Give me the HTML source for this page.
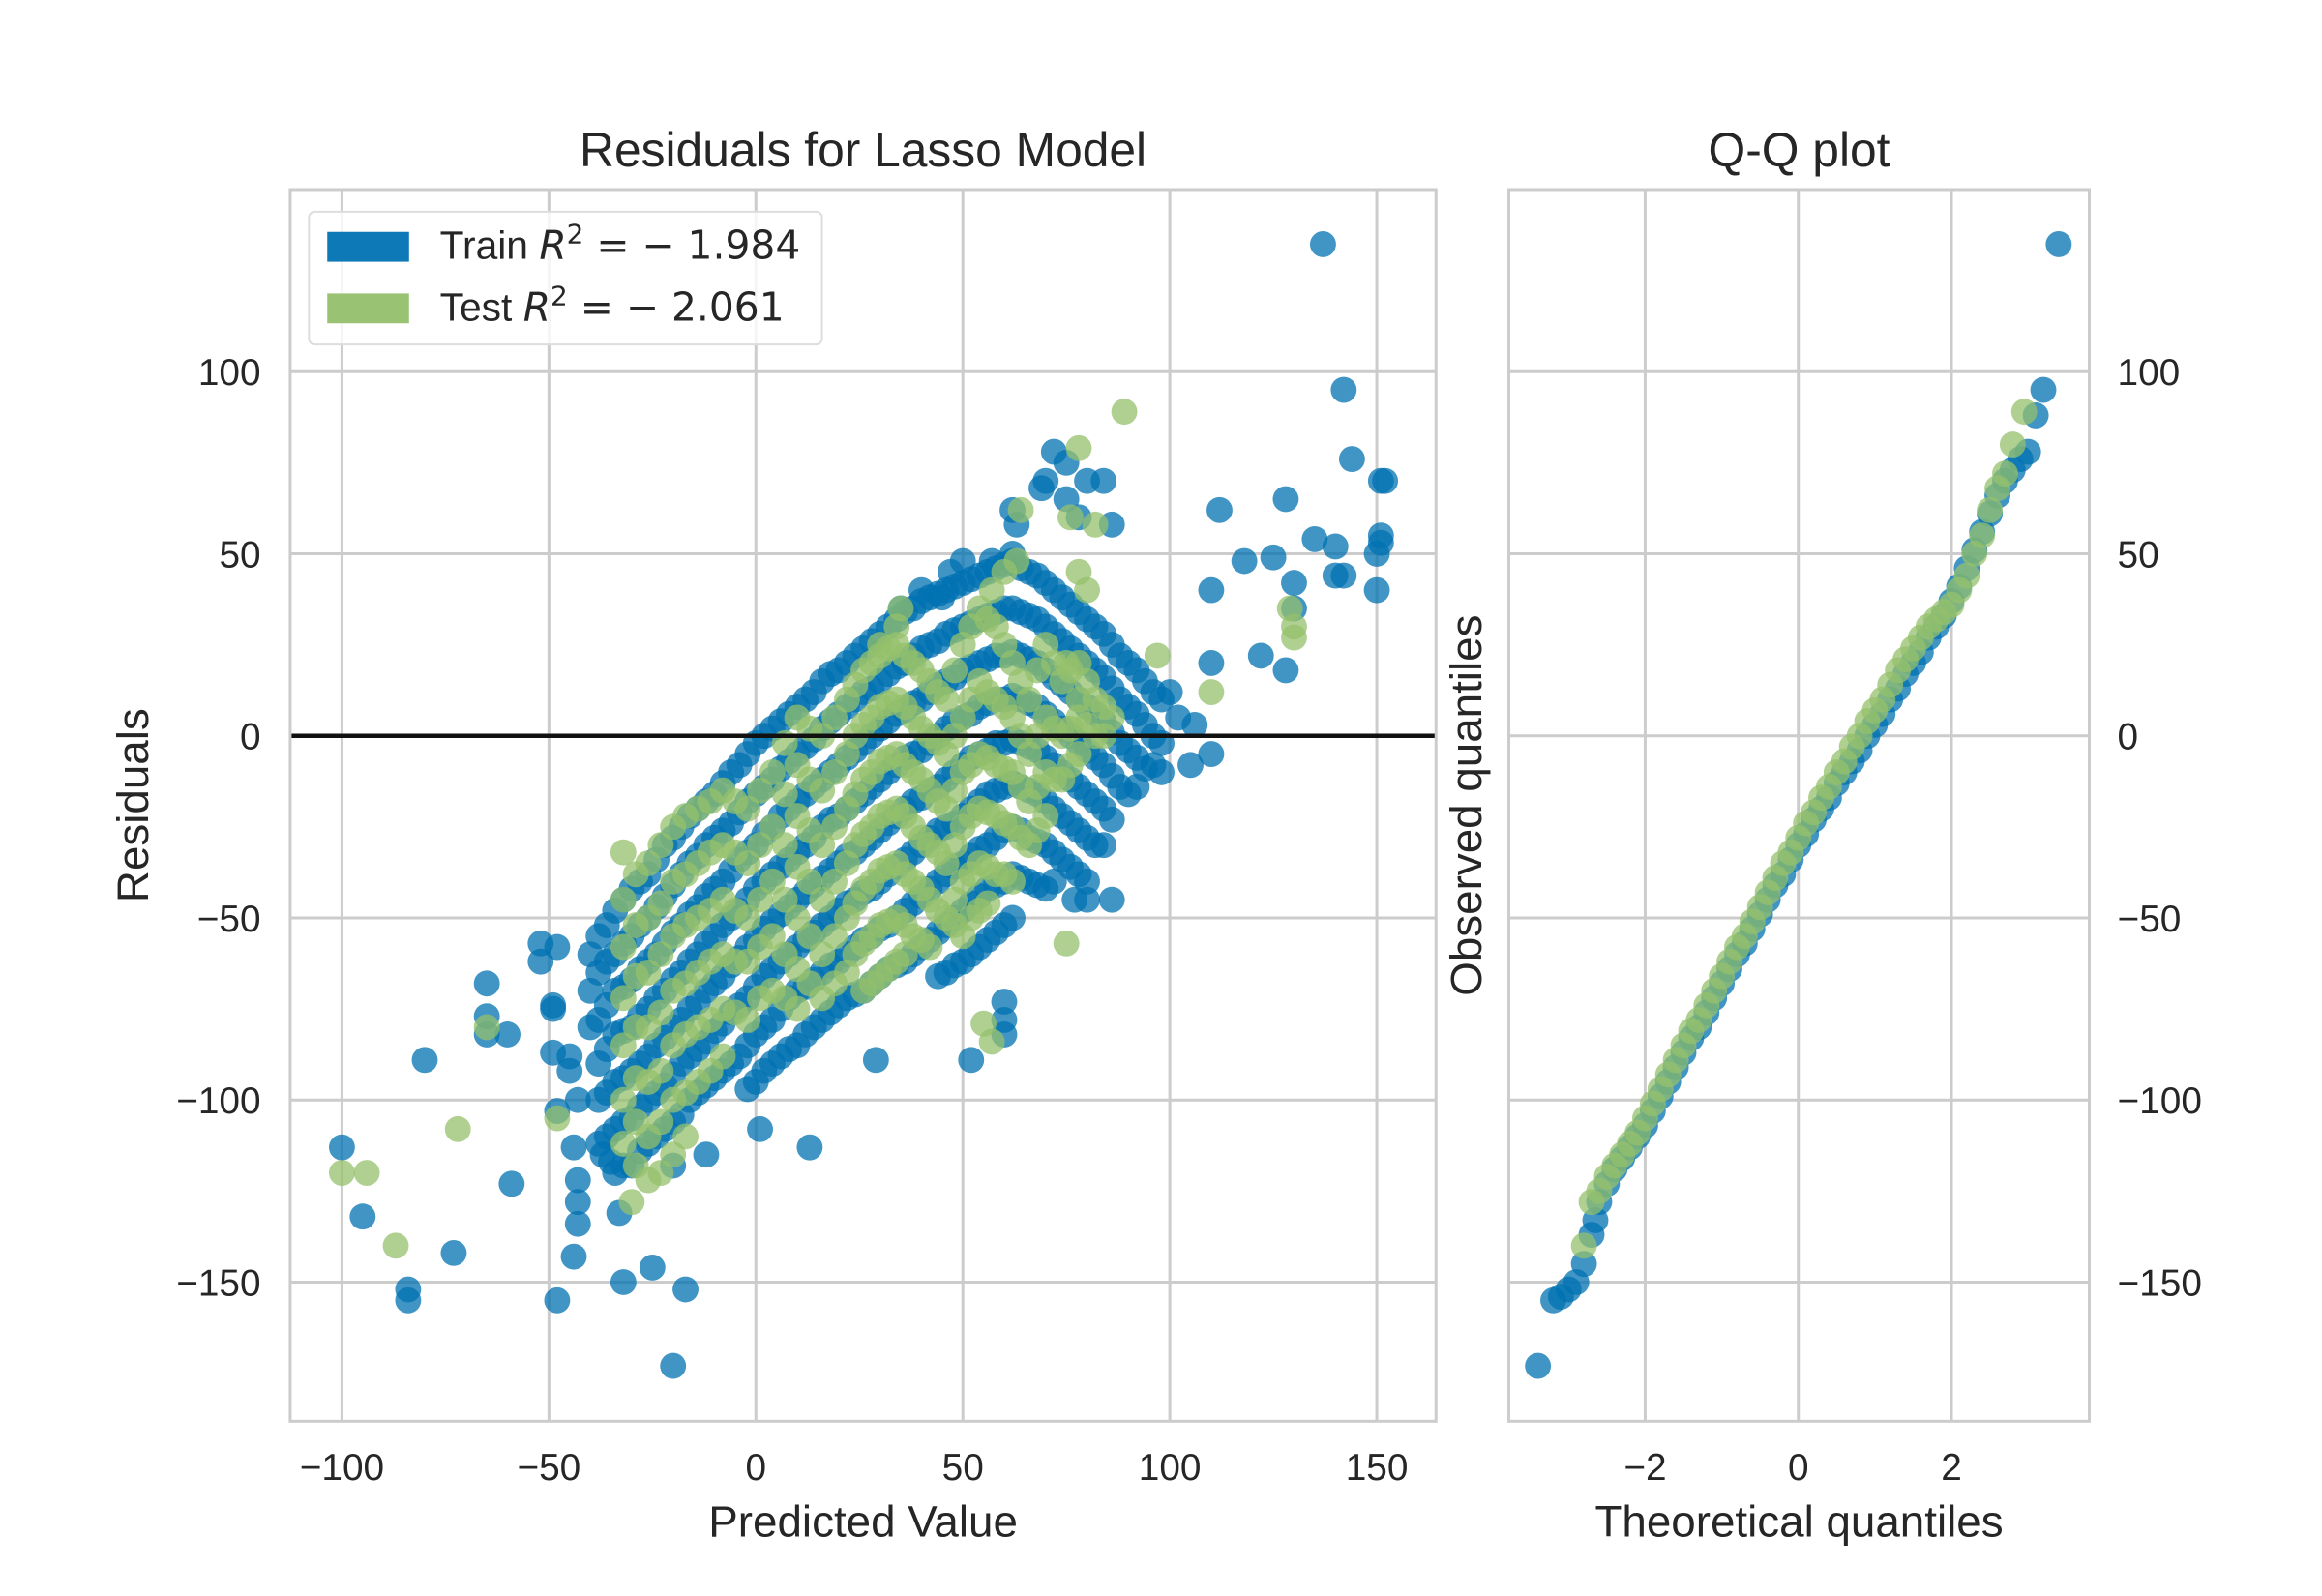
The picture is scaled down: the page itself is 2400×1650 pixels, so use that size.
<!DOCTYPE html>
<html><head><meta charset="utf-8"><title>Residuals for Lasso Model</title>
<style>
html,body{margin:0;padding:0;background:#fff;}
svg{display:block;font-family:"Liberation Sans","DejaVu Sans",sans-serif;}
</style></head>
<body>
<svg id="fig" width="2400" height="1650" viewBox="0 0 2400 1650" xmlns="http://www.w3.org/2000/svg">
<rect width="2400" height="1650" fill="#ffffff"/>
<g transform="scale(0.9948)">
<g id="main"></g>
<g id="qq"></g>
</g>
</svg>
<script>
// ---------- data ----------
const xTicks = [-100, -50, 0, 50, 100, 150];
const yTicks = [-150, -100, -50, 0, 50, 100];
const qqXTicks = [-2, 0, 2];
const tickText = {"-150":"\u2212150","-100":"\u2212100","-50":"\u221250","0":"0","50":"50","100":"100","150":"150","-2":"\u22122","2":"2"};

const trainOutliers = [[-100,-113],[-95,-132],[-84,-152],[-84,-155],[-80,-89],[-73,-142],[-65,-68],[-65,-77],[-65,-82],[-60,-82],[-59,-123],[-52,-57],[-52,-62],[-48,-58],[-49,-74],[-49,-75],[-49,-87],[-48,-103],[-48,-155],[-45,-88],[-45,-92],[-44,-113],[-43,-122],[-43,-128],[-43,-134],[-44,-143],[-43,-100],[-40,-60],[-40,-70],[-40,-80],[-37,-115],[-35,-117],[-33,-131],[-32,-150],[-25,-146],[-20,-173],[-17,-152],[-20,-118],[-12,-115],[1,-108],[13,-113],[29,-89],[52,-89],[60,-73],[60,-78],[60,-82],[77,-45],[80,-45],[86,-45],[98,-10],[100,12],[105,-8],[110,-5],[112,62],[110,20],[110,40],[118,48],[122,22],[125,49],[128,18],[128,65],[130,35],[130,42],[135,54],[137,135],[140,52],[140,44],[142,95],[142,44],[144,76],[150,40],[150,50],[151,53],[151,55],[151,70],[152,70],[78,60],[80,70],[84,70],[86,58],[69,68],[70,70],[75,75],[72,78],[75,65],[62,62],[63,58],[62,50],[57,48],[50,48],[47,45],[45,38],[40,40],[35,35]];
const trainCloudX = [-38,-34,-30,-26,-22,-18,-14,-10,-6,-2,2,6,10,14,18,22,26,30,34,38,42,46,50,54,58,62,66,70,74,78,82,86,90,94,98,102,106];
const trainCloudY = [
[-55,-65,-78,-90,-100,-112],[-48,-60,-70,-82,-95,-108,-120],[-42,-55,-67,-80,-92,-105,-118],[-38,-50,-62,-75,-88,-100,-112],
[-30,-44,-57,-70,-83,-96,-108],[-25,-38,-52,-65,-78,-90,-104],[-20,-33,-47,-60,-73,-86,-98],[-16,-28,-42,-55,-68,-81,-94],
[-10,-24,-37,-50,-63,-76,-90],[-5,-18,-32,-45,-58,-72,-85,-97],[0,-14,-27,-40,-53,-66,-80,-92],[4,-9,-22,-36,-49,-62,-75,-88],
[8,-5,-18,-32,-45,-58,-70,-85],[12,-1,-14,-28,-41,-54,-67,-80],[17,4,-10,-23,-37,-50,-63,-76],[20,8,-6,-20,-33,-46,-60,-72],
[24,12,-2,-16,-30,-43,-56,-70],[28,15,2,-12,-26,-40,-53,-66],[32,19,6,-8,-22,-36,-50,-63],[35,22,9,-5,-18,-32,-46,-60],
[38,25,12,-2,-15,-28,-42,-56],[40,28,15,2,-12,-25,-38,-52,-65],[42,30,18,5,-8,-22,-35,-48,-62],[44,32,20,8,-5,-18,-31,-44,-58],
[46,34,22,10,-2,-15,-28,-41,-54],[48,35,23,11,-1,-13,-25,-38,-50],[45,33,21,9,-3,-15,-28,-40],[42,30,18,6,-6,-18,-30,-42],
[38,26,14,2,-10,-22,-34],[34,22,10,-2,-14,-26,-38],[30,18,6,-6,-18,-30],[25,13,1,-11,-23],[20,8,-4,-16],[15,3,-9],[10,-2],[5],[3]];
const trainFillX = [-36,-32,-28,-24,-20,-16,-12,-8,-4,0,4,8,12,16,20,24,28,32,36,40,44,48,52,56,60,64,68,72,76,80,84,88,92,96];
const trainFillY = [
[-52,-62,-74,-86,-98,-110],[-45,-57,-69,-81,-94,-106,-118],[-40,-52,-64,-77,-90,-102,-114],[-34,-47,-60,-72,-85,-98,-110],
[-28,-41,-54,-67,-80,-93,-106],[-22,-35,-49,-62,-75,-88,-100],[-18,-30,-44,-57,-70,-84,-96],[-13,-26,-40,-52,-66,-79,-92],
[-8,-21,-34,-48,-61,-74,-88],[-2,-16,-30,-42,-56,-69,-82,-95],[2,-12,-25,-38,-51,-64,-78,-90],[6,-7,-20,-34,-47,-60,-72,-86],
[10,-3,-16,-30,-43,-56,-69,-82],[15,2,-12,-25,-39,-52,-65,-78],[18,6,-8,-22,-35,-48,-62,-74],[22,10,-4,-18,-32,-45,-58,-71],
[26,13,0,-14,-28,-42,-55,-68],[30,17,4,-10,-24,-38,-52,-64],[34,20,7,-6,-20,-34,-48,-62],[37,24,10,-4,-17,-30,-44,-58],
[39,26,14,0,-14,-26,-40,-54,-66],[41,29,16,4,-10,-24,-36,-50,-63],[43,31,19,6,-6,-20,-33,-46,-60],[45,33,21,9,-4,-16,-30,-42,-56],
[47,35,22,10,-2,-14,-26,-40,-52],[46,34,22,10,-2,-14,-26,-39],[44,32,20,8,-4,-16,-29,-41],[40,28,16,4,-8,-20,-32,-40],
[36,24,12,0,-12,-24,-36],[32,20,8,-4,-16,-28,-40],[28,16,4,-8,-20,-30],[22,10,-2,-14],[18,6,-6,-14],[12,0,-8]];

const testOutliers = [[-100,-120],[-94,-120],[-87,-140],[-72,-108],[-65,-80],[-48,-105],[-30,-128],[55,-79],[57,-84],[75,-57],[76,60],[78,79],[82,58],[89,89],[80,40],[78,45],[97,22],[110,12],[129,35],[130,30],[130,27],[64,62],[63,48],[60,45],[57,40],[35,35],[34,30],[30,25],[75,20],[78,10]];
const testCloudX = [-32,-26,-20,-14,-8,-2,4,10,16,22,26,30,34,38,42,46,50,54,58,62,66,70,74,78,82,86];
const testCloudY = [
[-32,-45,-58,-72,-85,-100,-112],[-35,-50,-65,-80,-95,-110,-122],[-25,-40,-55,-70,-85,-100,-115],[-20,-35,-50,-65,-80,-95],
[-15,-30,-45,-60,-75,-88],[-20,-35,-50,-62,-78],[-10,-25,-40,-55,-70],[5,-8,-22,-36,-50,-64,-75],
[0,-15,-30,-45,-60,-72],[10,-5,-20,-35,-50,-65],[18,3,-12,-27,-42,-57,-70],[22,8,-7,-22,-37,-52,-66],
[25,10,-5,-20,-35,-50,-62],[20,5,-10,-25,-40,-55],[15,0,-15,-30,-45,-58],[10,-5,-20,-35,-50],
[25,5,-10,-25,-40,-55],[35,15,-5,-20,-35,-48],[30,10,-8,-22,-38],[20,5,-10,-25,-40],
[10,-5,-18,-30],[25,5,-10,-22],[15,0,-12],[20,5,-5],[10,0],[5]];
const testFillX = [-29,-23,-17,-11,-5,1,7,13,19,24,28,32,36,40,44,48,52,56,60,64,68,72,76,80,84];
const testFillY = [
[-38,-52,-66,-80,-94,-106,-118],[-30,-46,-60,-76,-92,-106,-120],[-22,-38,-52,-68,-82,-98,-110],[-18,-32,-48,-62,-78,-92],
[-18,-32,-48,-62,-76],[-15,-30,-45,-58,-72],[-2,-16,-30,-45,-60,-72],[2,-12,-26,-40,-55,-68],
[5,-10,-25,-40,-55,-68],[14,0,-16,-30,-46,-60],[20,5,-10,-25,-40,-55,-68],[24,9,-6,-21,-36,-51,-64],
[22,8,-8,-22,-38,-52,-60],[18,2,-12,-28,-42,-56],[12,-2,-18,-32,-48],[18,0,-15,-30,-45,-52],
[30,10,-8,-22,-38,-50],[32,12,-6,-21,-36,-46],[25,8,-9,-24,-38],[15,0,-14,-28],
[18,0,-14,-26],[20,2,-12],[18,2,-8],[15,3],[8,0]];

const qqTrainTheo = [-3.4,-3.2,-3.1,-3.0,-2.9,-2.8,-2.7,-2.65,-2.6,-2.5,-2.4,-2.3,-2.2,-2.1,-2.0,-1.9,-1.8,-1.7,-1.6,-1.5,-1.4,-1.3,-1.2,-1.1,-1.0,-0.9,-0.8,-0.7,-0.6,-0.5,-0.4,-0.3,-0.2,-0.1,0,0.1,0.2,0.3,0.4,0.5,0.6,0.7,0.8,0.9,1.0,1.1,1.2,1.3,1.4,1.5,1.6,1.7,1.8,1.9,2.0,2.1,2.2,2.3,2.4,2.5,2.6,2.7,2.8,2.9,3.0,3.1,3.2,3.4];
const qqTrainObs = [-173,-155,-154,-152,-150,-145,-137,-133,-128,-123,-119,-116,-113,-110,-107,-103,-99,-95,-91,-87,-83,-80,-76,-72,-68,-64,-60,-57,-53,-49,-45,-41,-38,-34,-30,-27,-23,-20,-17,-13,-10,-7,-4,0,3,6,10,13,17,20,23,27,30,33,37,41,46,51,56,61,66,70,73,76,78,88,95,135];
const qqTestTheo = [-2.8,-2.7,-2.6,-2.5,-2.4,-2.3,-2.2,-2.1,-2.0,-1.9,-1.8,-1.7,-1.6,-1.5,-1.4,-1.3,-1.2,-1.1,-1.0,-0.9,-0.8,-0.7,-0.6,-0.5,-0.4,-0.3,-0.2,-0.1,0,0.1,0.2,0.3,0.4,0.5,0.6,0.7,0.8,0.9,1.0,1.1,1.2,1.3,1.4,1.5,1.6,1.7,1.8,1.9,2.0,2.1,2.2,2.3,2.4,2.5,2.6,2.7,2.8,2.95];
const qqTestObs = [-140,-128,-125,-121,-118,-115,-112,-109,-105,-101,-97,-93,-89,-85,-81,-78,-74,-70,-66,-62,-58,-55,-51,-47,-43,-39,-35,-32,-28,-24,-21,-17,-14,-10,-7,-3,0,4,7,10,14,18,21,24,27,30,32,34,36,40,44,50,55,62,68,72,80,89];

// ---------- layout ----------
const NS = "http://www.w3.org/2000/svg";
const M = {l:301.5, r:1492, t:197, b:1477, x0:-112.5, x1:164.3, y0:-188.2, y1:150};
const Q = {l:1567.7, r:2170.8, t:197, b:1477, x0:-3.78, x1:3.8, y0:-188.2, y1:150};
function sx(a,v){return a.l+(v-a.x0)/(a.x1-a.x0)*(a.r-a.l);}
function sy(a,v){return a.b-(v-a.y0)/(a.y1-a.y0)*(a.b-a.t);}
function mk(parent,tag,attrs,text){const e=document.createElementNS(NS,tag);for(const k in attrs)e.setAttribute(k,attrs[k]);if(text!==undefined)e.textContent=text;parent.appendChild(e);return e;}
const GRID="#cccccc", TXT="#262626", TRAIN="#0072B2", TEST="#94c06b", R=13.5, TICK=39;
const main=document.getElementById('main'), qq=document.getElementById('qq');

function frame(g,a,xt,yt,yRight,prefix){
  const bg=mk(g,'rect',{x:a.l,y:a.t,width:a.r-a.l,height:a.b-a.t,fill:'#fff'});
  
  
  xt.forEach(v=>{
    const X=sx(a,v);
    const l=mk(g,'line',{x1:X,x2:X,y1:a.t,y2:a.b,stroke:GRID,'stroke-width':3});
    
    
    const t=mk(g,'text',{x:X,y:1538,'text-anchor':'middle','font-size':TICK,fill:TXT},tickText[String(v)]);
    
    
  });
  yt.forEach(v=>{
    const Y=sy(a,v);
    const l=mk(g,'line',{x1:a.l,x2:a.r,y1:Y,y2:Y,stroke:GRID,'stroke-width':3});
    
    
    const t=mk(g,'text',{x:yRight?2200:271,y:Y+14,'text-anchor':yRight?'start':'end','font-size':TICK,fill:TXT},tickText[String(v)]);
    
    
  });
}
function border(g,a,prefix){
  const b=mk(g,'rect',{x:a.l,y:a.t,width:a.r-a.l,height:a.b-a.t,fill:'none',stroke:GRID,'stroke-width':3});
  
  
}
function dot(g,a,x,y,color,name){
  const c=mk(g,'circle',{cx:sx(a,x),cy:sy(a,y),r:R,fill:color,'fill-opacity':0.75});
  
  
}

// ---------- residuals plot ----------
frame(main,M,xTicks,yTicks,false,'residuals');
const gTrain=mk(main,'g',{});


trainOutliers.forEach(p=>dot(gTrain,M,p[0],p[1],TRAIN,'train-point'));
trainCloudX.forEach((x,i)=>trainCloudY[i].forEach(y=>dot(gTrain,M,x,y,TRAIN,'train-point')));
trainFillX.forEach((x,i)=>trainFillY[i].forEach(y=>dot(gTrain,M,x,y,TRAIN,'train-point')));
const gTest=mk(main,'g',{});


testOutliers.forEach(p=>dot(gTest,M,p[0],p[1],TEST,'test-point'));
testCloudX.forEach((x,i)=>testCloudY[i].forEach(y=>dot(gTest,M,x,y,TEST,'test-point')));
testFillX.forEach((x,i)=>testFillY[i].forEach(y=>dot(gTest,M,x,y,TEST,'test-point')));
const zl=mk(main,'line',{x1:M.l,x2:M.r,y1:sy(M,0),y2:sy(M,0),stroke:'#111','stroke-width':4.5});


border(main,M,'residuals');

const lg=mk(main,'g',{});


const lbox=mk(lg,'rect',{x:321,y:220,width:533,height:138,rx:6,fill:'#fff','fill-opacity':0.8,stroke:'#dddddd','stroke-width':2});


const p1=mk(lg,'rect',{x:340,y:241,width:85,height:31,fill:TRAIN,'fill-opacity':0.95});


const p2=mk(lg,'rect',{x:340,y:305,width:85,height:31,fill:TEST,'fill-opacity':0.95});


const t1=mk(lg,'text',{x:457,y:269,'font-size':41,fill:TXT});
t1.innerHTML='Train <tspan font-family="DejaVu Sans" font-style="oblique">R</tspan><tspan font-family="DejaVu Sans" dy="-16" font-size="28">2</tspan><tspan font-family="DejaVu Sans" dy="16"> = \u2212 1.984</tspan>';


const t2=mk(lg,'text',{x:457,y:333,'font-size':41,fill:TXT});
t2.innerHTML='Test <tspan font-family="DejaVu Sans" font-style="oblique">R</tspan><tspan font-family="DejaVu Sans" dy="-16" font-size="28">2</tspan><tspan font-family="DejaVu Sans" dy="16"> = \u2212 2.061</tspan>';



const tt=mk(main,'text',{x:(M.l+M.r)/2,y:173,'text-anchor':'middle','font-size':50,fill:TXT},'Residuals for Lasso Model');


const xl=mk(main,'text',{x:(M.l+M.r)/2,y:1597,'text-anchor':'middle','font-size':46,fill:TXT},'Predicted Value');


const yl=mk(main,'text',{x:0,y:0,'text-anchor':'middle','font-size':46,fill:TXT,transform:'translate(154,837) rotate(-90)'},'Residuals');



// ---------- QQ plot ----------
frame(qq,Q,qqXTicks,yTicks,true,'qq');
const gq1=mk(qq,'g',{});


qqTrainTheo.forEach((x,i)=>dot(gq1,Q,x,qqTrainObs[i],TRAIN,'qq-train-point'));
const gq2=mk(qq,'g',{});


qqTestTheo.forEach((x,i)=>dot(gq2,Q,x,qqTestObs[i],TEST,'qq-test-point'));
border(qq,Q,'qq');
const qt=mk(qq,'text',{x:(Q.l+Q.r)/2,y:173,'text-anchor':'middle','font-size':50,fill:TXT},'Q-Q plot');


const qx=mk(qq,'text',{x:(Q.l+Q.r)/2,y:1597,'text-anchor':'middle','font-size':46,fill:TXT},'Theoretical quantiles');


const qy=mk(qq,'text',{x:0,y:0,'text-anchor':'middle','font-size':46,fill:TXT,transform:'translate(1539,837) rotate(-90)'},'Observed quantiles');


</script>
</body></html>
